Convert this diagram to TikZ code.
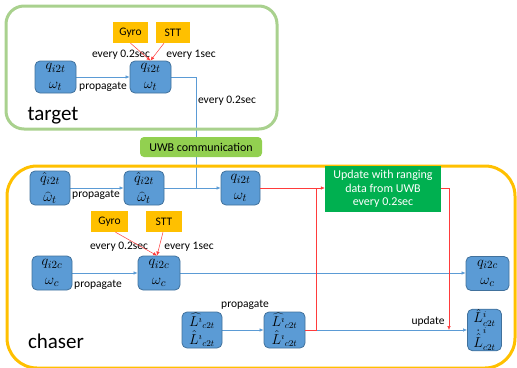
\documentclass[tikz,border=0pt]{standalone}
\usepackage{fontspec}
\setmainfont{Carlito}
\usetikzlibrary{arrows.meta,backgrounds,calc}
\definecolor{statefill}{HTML}{5B9BD5}
\definecolor{stateedge}{HTML}{41719C}
\definecolor{sensorfill}{HTML}{FFC000}
\definecolor{targetframe}{HTML}{A9D18E}
\definecolor{chaserframe}{HTML}{FFC000}
\definecolor{commfill}{HTML}{92D050}
\definecolor{updfill}{HTML}{00B050}
\definecolor{measred}{HTML}{FF3B3B}
\begin{document}
\begin{tikzpicture}[x=1pt,y=-1pt,
  state/.style={draw=stateedge, fill=statefill, line width=0.8pt, rounded corners=5pt,
    inner sep=0pt, align=center, minimum width=40pt, minimum height=34pt,
    font=\fontsize{15}{18.5}\selectfont},
  sensor/.style={fill=sensorfill, inner sep=0pt, minimum width=35pt, minimum height=21pt,
    font=\fontsize{11.5}{13}\selectfont},
  lbl/.style={inner sep=0pt, font=\fontsize{11.5}{13}\selectfont},
  title/.style={inner sep=0pt, font=\fontsize{21}{25}\selectfont},
  flow/.style={draw=statefill, line width=0.6pt, -{Latex[length=4pt,width=3.5pt]}},
  plainflow/.style={draw=statefill, line width=0.6pt},
  meas/.style={draw=measred, line width=0.5pt},
  measarrow/.style={draw=measred, line width=0.5pt, -{Latex[length=4pt,width=3.5pt]}},
  frame/.style={line width=3pt}
]
\useasboundingbox (0,0) rectangle (517,367);

% frames
\draw[frame, draw=targetframe, rounded corners=18pt] (6,6) rectangle (277,129);
\draw[frame, draw=chaserframe, rounded corners=30pt] (7,166) rectangle (515,368);
\node[title] (ttitle) at (53,116) {target};
\node[title] (ctitle) at (56,341) {chaser};

% target side
\node[state, minimum width=41pt, minimum height=32pt] (t1) at (55.5,77) {$q_{i2t}$\\$\omega_t$};
\node[state, minimum width=41pt, minimum height=32pt] (t2) at (150.5,77) {$q_{i2t}$\\$\omega_t$};
\node[sensor] (tgyro) at (130.5,32.5) {Gyro};
\node[sensor, minimum width=34pt] (tstt) at (173,32.5) {STT};
\node[lbl] (tl1) at (103,87) {propagate};
\node[lbl] (tl2) at (121,55) {every 0.2sec};
\node[lbl] (tl3) at (191,55) {every 1sec};
\node[lbl] (tl4) at (227,101) {every 0.2sec};

% communication link
\node[fill=commfill, rounded corners=4pt, minimum width=122pt, minimum height=20pt, inner sep=0pt,
  font=\fontsize{12}{14}\selectfont] (uwb) at (201,147) {UWB communication};

% chaser, relative target states
\node[state] (ca) at (50,188) {$\hat{q}_{i2t}$\\$\widehat{\omega}_t$};
\node[state] (cb) at (144,188) {$\hat{q}_{i2t}$\\$\widehat{\omega}_t$};
\node[state, minimum width=39pt] (cc) at (240.5,188) {$q_{i2t}$\\$\omega_t$};
\node[lbl] (cl1) at (96,195) {propagate};
\node[fill=updfill, text=white, minimum width=116pt, minimum height=46pt, inner sep=0pt, align=center,
  font=\fontsize{12}{13.5}\selectfont] (upd) at (383,189) {Update with ranging\\data from UWB\\every 0.2sec};

% chaser, own attitude
\node[sensor, minimum width=37pt] (cgyro) at (109.5,221.5) {Gyro};
\node[sensor, minimum width=36pt] (cstt) at (164,221.5) {STT};
\node[lbl] (cl2) at (119,247) {every 0.2sec};
\node[lbl] (cl3) at (189,247) {every 1sec};
\node[state] (qa) at (52,273) {$q_{i2c}$\\$\omega_c$};
\node[state, minimum width=42pt] (qb) at (159,273) {$q_{i2c}$\\$\omega_c$};
\node[state, minimum width=43pt] (qc) at (487.5,273.5) {$q_{i2c}$\\$\omega_c$};
\node[lbl] (cl4) at (98,285) {propagate};

% chaser, line of sight
\node[state, minimum height=36pt, font=\fontsize{13.5}{18}\selectfont] (la) at (202,330)
  {$\widehat{L^{\imath}}{}_{c2t}$\\$\hat{L}^{\imath}{}_{c2t}$};
\node[state, minimum width=41pt, minimum height=36pt, font=\fontsize{13.5}{18}\selectfont] (lb) at (284.5,330)
  {$\widehat{L^{\imath}}{}_{c2t}$\\$\hat{L}^{\imath}{}_{c2t}$};
\node[state, minimum width=34pt, minimum height=36pt, font=\fontsize{13.5}{18}\selectfont] (lc) at (484.5,330)
  {$\hat{L}^{i}_{c2t}$\\$\dot{\hat{L}}^{i}_{c2t}$};
\node[lbl] (cl5) at (245,305) {propagate};
\node[lbl] (cl6) at (428,321) {update};

% connectors
\coordinate (tdown) at (196,77);
\coordinate (tjoin) at (196,188);
\coordinate (rjoin) at (316,188);
\coordinate (lsplit) at (316,330);
\coordinate (uright) at (449,188);
\coordinate (udown) at (449,330);

\begin{scope}[on background layer]
\draw[flow] (t1) -- (t2);
\draw[plainflow] (t2.east) -- (tdown) -- (tjoin);
\draw[flow] (ca) -- (cb);
\draw[flow] (cb) -- (cc);
\draw[flow] (qa) -- (qb);
\draw[flow] (qb) -- (qc.west |- qb);
\draw[flow] (la) -- (lb);
\draw[flow] (lb) -- (lc);
\end{scope}

\draw[measarrow] (tgyro.south) -- (t2.north);
\draw[measarrow] ($(tstt.south)+(-9,0)$) -- (t2.north);
\draw[measarrow] ($(cgyro.south)+(6,0)$) -- ($(qb.north)+(-2,0)$);
\draw[measarrow] ($(cstt.south)+(-1,0)$) -- ($(qb.north)+(-2,0)$);
\draw[meas] (cc.east) -- (rjoin);
\draw[measarrow] (rjoin) -- (upd.west |- rjoin);
\draw[meas] (lb.east) -- (lsplit) -- (rjoin);
\draw[measarrow] (upd.east |- uright) -- (uright) -- (udown);
\end{tikzpicture}
\end{document}
